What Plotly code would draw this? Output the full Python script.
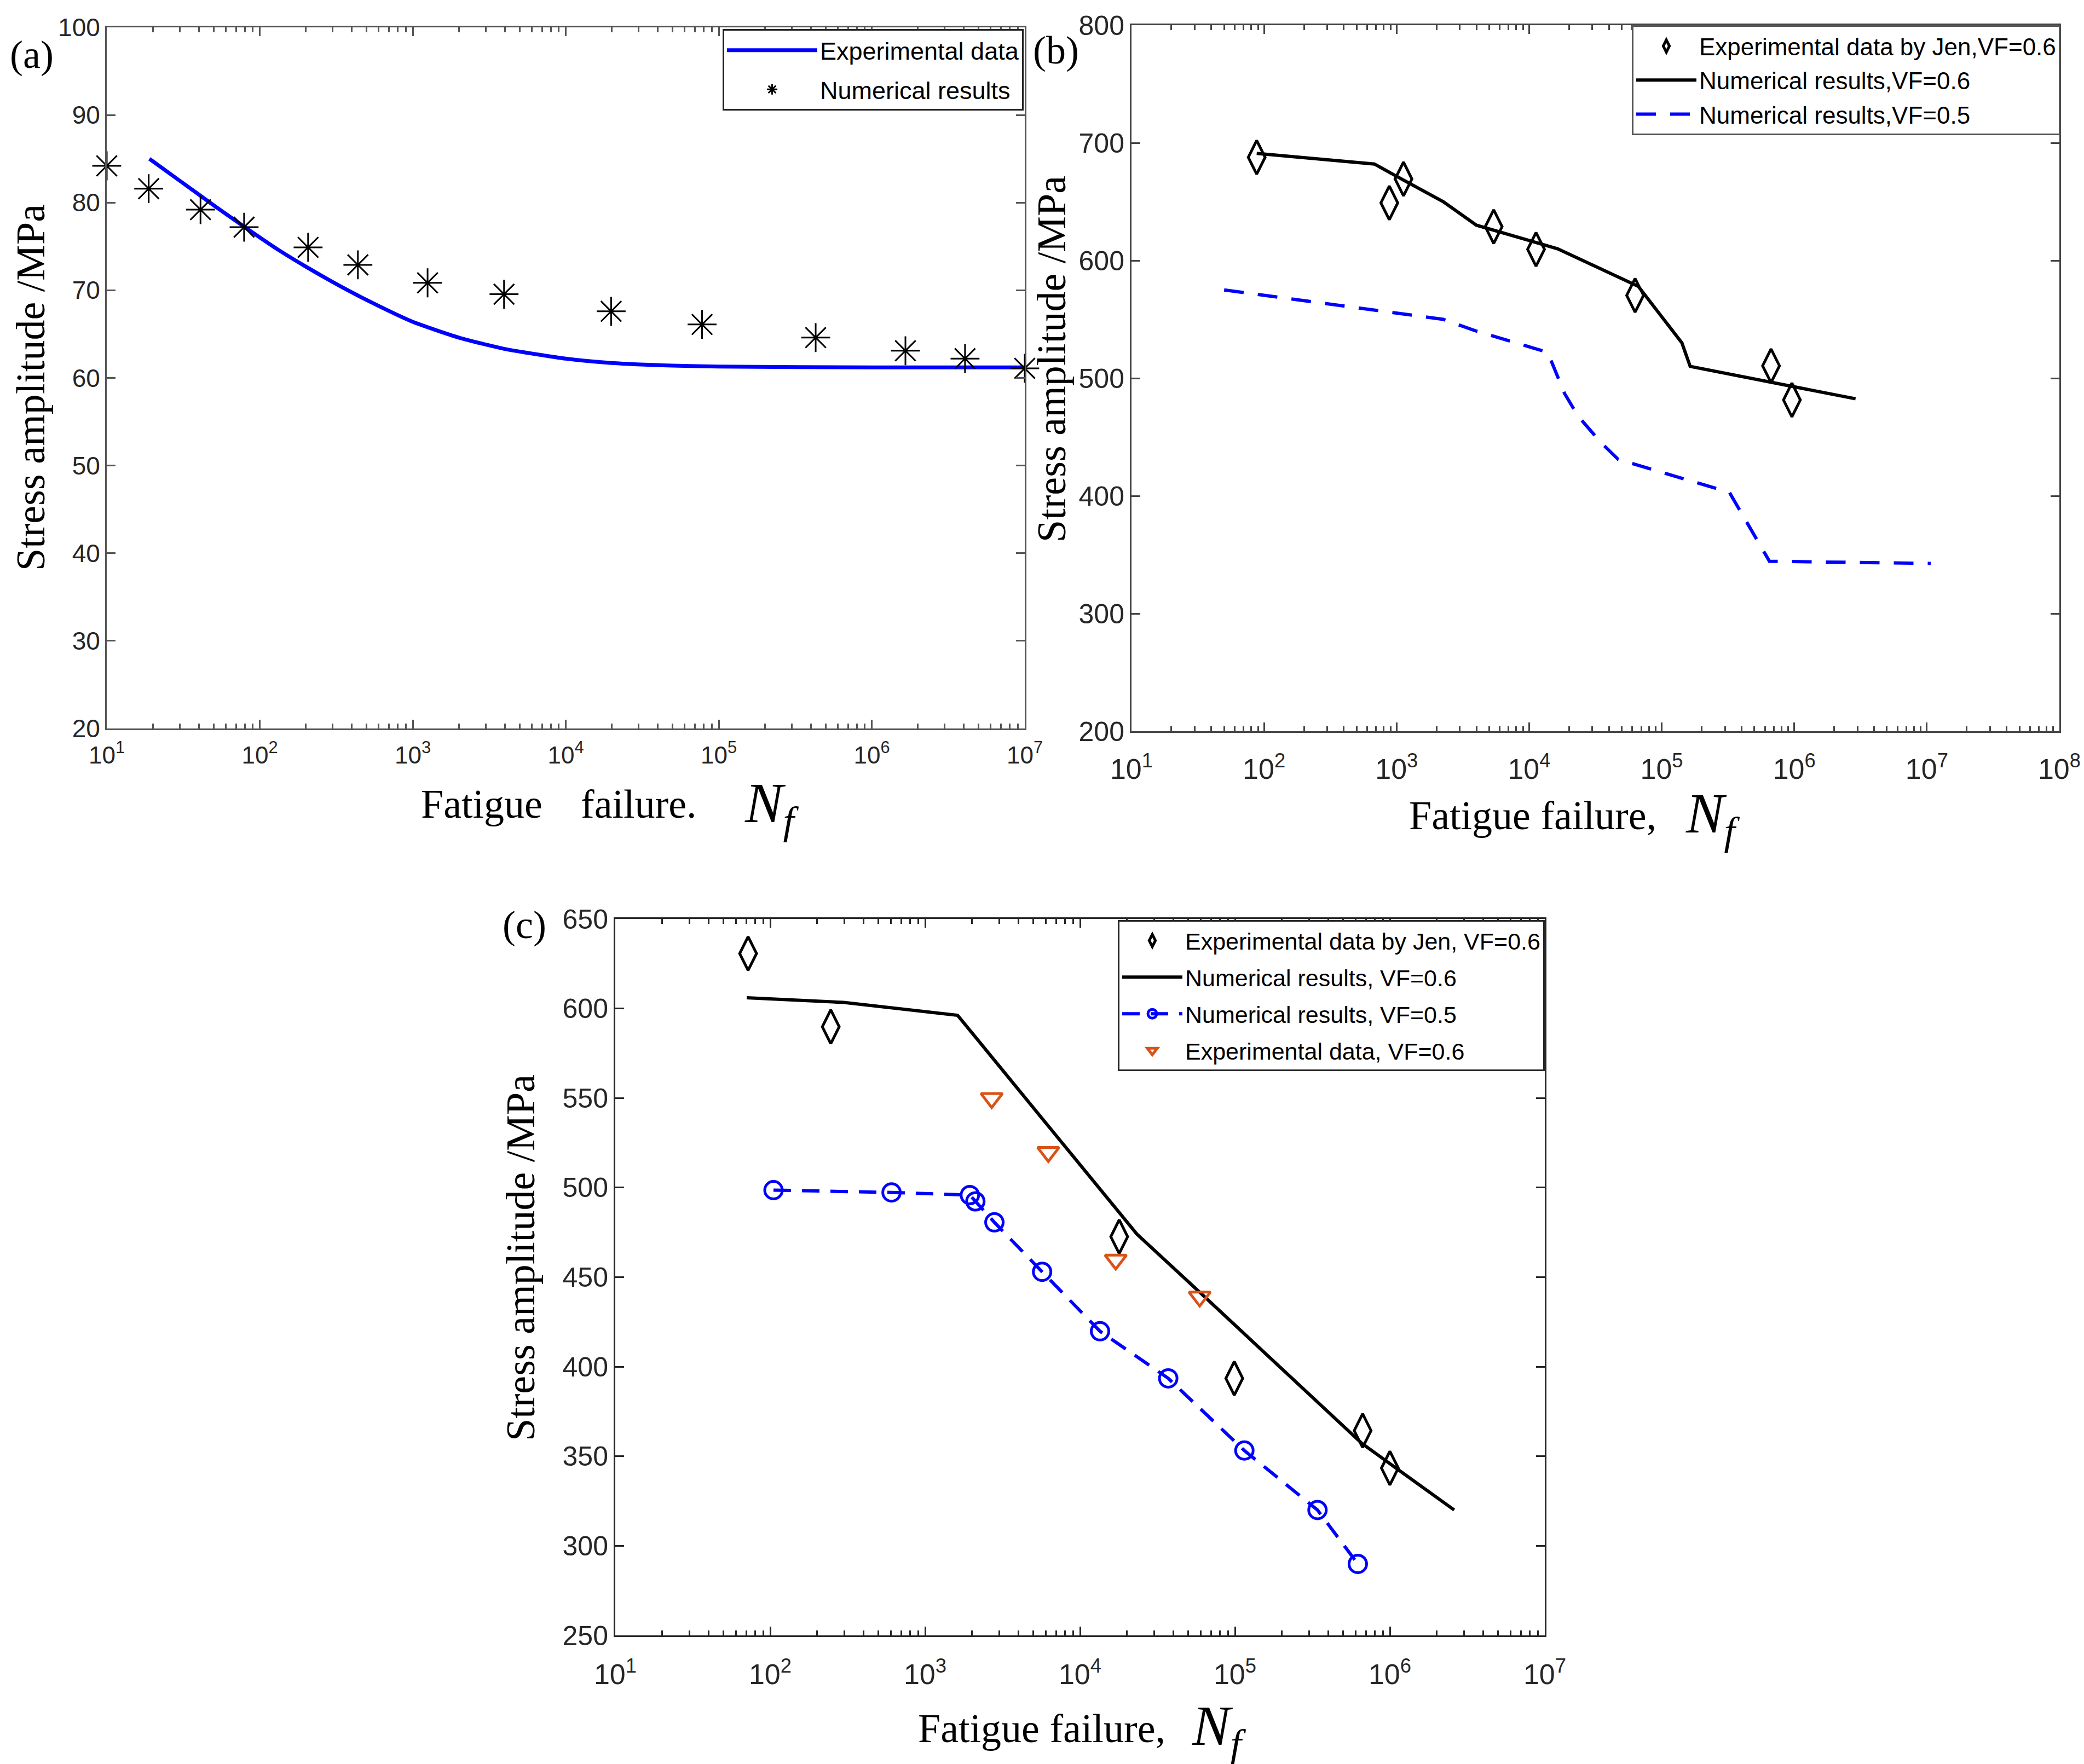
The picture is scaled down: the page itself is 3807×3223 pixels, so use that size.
import numpy as np
import plotly.graph_objects as go

W, H = 3807, 3223

# ---------------- Panel (a) data ----------------
a_line_N = [19, 30, 50, 80, 130, 200, 350, 600, 1000, 2000, 4000, 1e4, 2e4, 5e4, 1e5, 1e6, 1e7]
a_line_S = [85.0, 82.5, 79.7, 77.2, 74.7, 72.7, 70.3, 68.2, 66.4, 64.6, 63.3, 62.2, 61.7, 61.4, 61.3, 61.2, 61.2]
a_star_N = [10, 18.8, 41, 79, 207, 438, 1250, 3950, 19800, 77800, 430000, 1.66e6, 4.07e6, 1e7]
a_star_S = [84.2, 81.6, 79.2, 77.2, 74.9, 72.9, 70.85, 69.55, 67.6, 66.1, 64.6, 63.1, 62.2, 61.1]

# ---------------- Panel (b) data ----------------
b_exp_N = [88, 881, 1127, 5400, 11270, 63000, 668000, 960000]
b_exp_S = [687.7, 649.0, 669.3, 628.8, 609.5, 570.4, 510.5, 481.5]
b_num06_N = [88, 680, 1100, 2250, 4000, 16400, 66700, 142000, 164000, 2.9e6]
b_num06_S = [691, 682, 669, 650, 630, 610, 578, 530, 510, 482.5]
b_num05_N = [50, 990, 2250, 4000, 13800, 18500, 23300, 35000, 47000, 324000, 650000, 1.07e7]
b_num05_S = [575, 555, 550, 540, 522, 487, 468, 445, 431, 403, 344.4, 342.6]

# ---------------- Panel (c) data ----------------
c_jen_N = [72, 246, 17900, 99000, 667000, 1e6]
c_jen_S = [630.7, 589.8, 472.6, 393.5, 364.3, 343.4]
c_num06_N = [70.6, 298, 1620, 23300, 59200, 195000, 661000, 2.6e6]
c_num06_S = [606, 603.4, 596.2, 474, 441.6, 399.8, 357.1, 320]
c_num05_N = [105, 607, 1945, 2110, 2800, 5690, 13460, 37100, 115000, 341000, 621000]
c_num05_S = [498.6, 497.3, 495.8, 492.3, 480.6, 453, 419.8, 393.5, 353.2, 320, 289.9]
c_exp_N = [2690, 6240, 17000, 59200]
c_exp_S = [549.9, 519.8, 459.7, 439.1]

# ticks
a_xdec = list(range(1, 8))
b_xdec = list(range(1, 9))
c_xdec = list(range(1, 8))
a_yticks = list(range(20, 101, 10))
b_yticks = list(range(200, 801, 100))
c_yticks = list(range(250, 651, 50))

SANS = "Liberation Sans, Arial, sans-serif"
SERIF = "Liberation Serif, Times New Roman, serif"
BLUE = "#0000FF"
ORANGE = "#D95319"

fig = go.Figure()

# (a)
fig.add_trace(go.Scatter(x=a_line_N, y=a_line_S, mode="lines", name="Experimental data",
                         line=dict(color=BLUE, width=7, shape="spline", smoothing=0.6),
                         xaxis="x", yaxis="y", legend="legend", legendgroup="a1"))
fig.add_trace(go.Scatter(x=a_star_N, y=a_star_S, mode="markers", name="Numerical results",
                         marker=dict(symbol="asterisk-open", size=44, color="black",
                                     line=dict(color="black", width=3)),
                         xaxis="x", yaxis="y", legend="legend", legendgroup="a2", cliponaxis=False))

# (b)
fig.add_trace(go.Scatter(x=b_exp_N, y=b_exp_S, mode="markers", name="Experimental data by Jen,VF=0.6",
                         marker=dict(symbol="diamond-tall-open", size=44, color="black",
                                     line=dict(color="black", width=5)),
                         xaxis="x2", yaxis="y2", legend="legend2", legendgroup="b1"))
fig.add_trace(go.Scatter(x=b_num06_N, y=b_num06_S, mode="lines", name="Numerical results,VF=0.6",
                         line=dict(color="black", width=6),
                         xaxis="x2", yaxis="y2", legend="legend2", legendgroup="b2"))
fig.add_trace(go.Scatter(x=b_num05_N, y=b_num05_S, mode="lines", name="Numerical results,VF=0.5",
                         line=dict(color=BLUE, width=6, dash="36px,26px"),
                         xaxis="x2", yaxis="y2", legend="legend2", legendgroup="b3"))

# (c)
fig.add_trace(go.Scatter(x=c_jen_N, y=c_jen_S, mode="markers", name="Experimental data by Jen, VF=0.6",
                         marker=dict(symbol="diamond-tall-open", size=44, color="black",
                                     line=dict(color="black", width=5)),
                         xaxis="x3", yaxis="y3", legend="legend3", legendgroup="c1"))
fig.add_trace(go.Scatter(x=c_num06_N, y=c_num06_S, mode="lines", name="Numerical results, VF=0.6",
                         line=dict(color="black", width=6),
                         xaxis="x3", yaxis="y3", legend="legend3", legendgroup="c2"))
fig.add_trace(go.Scatter(x=c_num05_N, y=c_num05_S, mode="lines+markers", name="Numerical results, VF=0.5",
                         line=dict(color=BLUE, width=6, dash="32px,20px"),
                         marker=dict(symbol="circle-open", size=32, color=BLUE,
                                     line=dict(color=BLUE, width=5)),
                         xaxis="x3", yaxis="y3", legend="legend3", legendgroup="c3"))
fig.add_trace(go.Scatter(x=c_exp_N, y=c_exp_S, mode="markers", name="Experimental data, VF=0.6",
                         marker=dict(symbol="triangle-down-open", size=34, color=ORANGE,
                                     line=dict(color=ORANGE, width=5)),
                         xaxis="x3", yaxis="y3", legend="legend3", legendgroup="c4"))


def minor_vals(decs):
    vals = []
    for d in decs[:-1]:
        for m in range(2, 10):
            vals.append(m * 10.0 ** d)
    return vals


def xaxis_cfg(decs, domain, anchor, fsize, color, standoff):
    return dict(type="log", domain=domain, anchor=anchor, automargin=False,
                range=[decs[0], decs[-1]],
                tickmode="array", tickvals=[10.0 ** d for d in decs],
                ticktext=["10<sup>%d</sup>" % d for d in decs],
                ticks="inside", ticklen=16, tickwidth=3, tickcolor=color,
                ticklabelstandoff=standoff,
                showline=True, linecolor=color, linewidth=3, mirror="ticks",
                showgrid=False, zeroline=False,
                tickfont=dict(family=SANS, size=fsize, color="#262626"),
                minor=dict(tickmode="array", tickvals=minor_vals(decs), ticks="inside",
                           ticklen=9, tickwidth=3, tickcolor=color, showgrid=False))


def yaxis_cfg(vals, domain, anchor, fsize, color):
    return dict(domain=domain, anchor=anchor, automargin=False, range=[vals[0], vals[-1]],
                tickmode="array", tickvals=vals,
                ticks="inside", ticklen=16, tickwidth=3, tickcolor=color,
                showline=True, linecolor=color, linewidth=3, mirror="ticks",
                showgrid=False, zeroline=False,
                tickfont=dict(family=SANS, size=fsize, color="#262626"))


def px(x):
    return x / W


def py(y):
    return 1 - y / H


ax_a = "#555555"
ax_b = "#444444"
ax_c = "#262626"

fig.update_layout(
    width=W, height=H, margin=dict(l=0, r=0, t=0, b=0, pad=0, autoexpand=False),
    paper_bgcolor="white", plot_bgcolor="white",
    xaxis=xaxis_cfg(a_xdec, [px(187), px(1864)], "y", 44, ax_a, 8),
    yaxis=yaxis_cfg(a_yticks, [py(1323), py(42)], "x", 46, ax_a),
    xaxis2=xaxis_cfg(b_xdec, [px(2059), px(3754)], "y2", 52, ax_b, 22),
    yaxis2=yaxis_cfg(b_yticks, [py(1328), py(38)], "x2", 50, ax_b),
    xaxis3=xaxis_cfg(c_xdec, [px(1116), px(2814)], "y3", 52, ax_c, 24),
    yaxis3=yaxis_cfg(c_yticks, [py(2980), py(1671)], "x3", 50, ax_c),
    legend=dict(x=px(1862), y=py(45), xanchor="right", yanchor="top",
                bgcolor="white", bordercolor="#222222", borderwidth=3,
                font=dict(family=SANS, size=45, color="black"), itemwidth=165,
                tracegroupgap=10),
    legend2=dict(x=px(3756), y=py(38), xanchor="right", yanchor="top",
                 bgcolor="white", bordercolor="#555555", borderwidth=3,
                 font=dict(family=SANS, size=44, color="black"), itemwidth=110,
                 tracegroupgap=2),
    legend3=dict(x=px(2814), y=py(1673), xanchor="right", yanchor="top",
                 bgcolor="white", bordercolor="#262626", borderwidth=3,
                 font=dict(family=SANS, size=43, color="black"), itemwidth=110,
                 tracegroupgap=8),
    showlegend=True,
)

ann = []


def text(x, y, t, size, family=SERIF, xanchor="center", angle=0):
    ann.append(dict(x=px(x), y=py(y), xref="paper", yref="paper", text=t, showarrow=False,
                    xanchor=xanchor, yanchor="middle", textangle=angle,
                    font=dict(family=family, size=size, color="black")))


# panel labels
text(50, 92, "(a)", 72)
text(1921, 84, "(b)", 72)
text(950, 1682, "(c)", 72)
# y titles
text(48, 700, "Stress amplitude /MPa", 74, angle=-90)
text(1913, 648, "Stress amplitude /MPa", 74, angle=-90)
text(943, 2290, "Stress amplitude /MPa", 74, angle=-90)
# x titles
text(872, 1461, "Fatigue", 74)
text(1159, 1461, "failure.", 74)
text(1350, 1466, "<i>N<sub>f</sub></i>", 104, xanchor="left")
text(2792, 1482, "Fatigue failure,", 74)
text(3069, 1485, "<i>N<sub>f</sub></i>", 104, xanchor="left")
text(1895, 3150, "Fatigue failure,", 74)
text(2167, 3152, "<i>N<sub>f</sub></i>", 104, xanchor="left")

fig.update_layout(annotations=ann)

fig.write_html("out.html")
